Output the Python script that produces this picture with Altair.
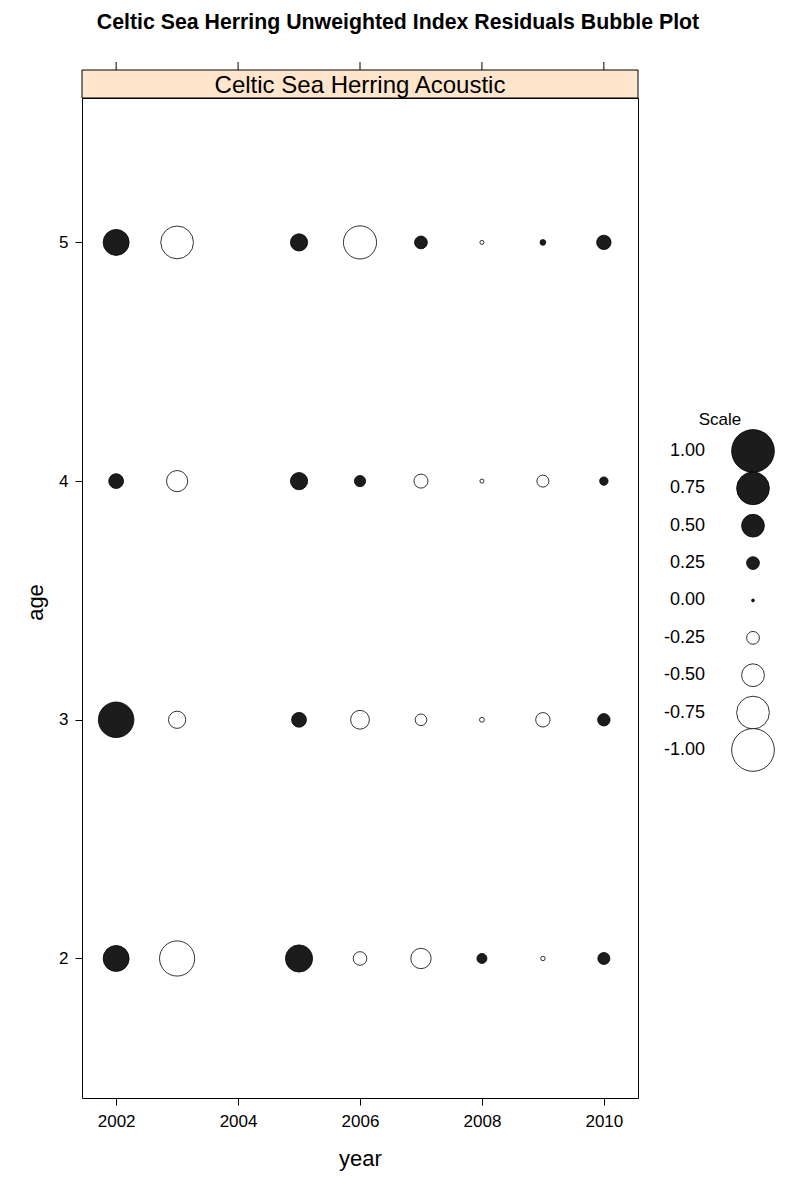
import altair as alt
import pandas as pd

# ---- data ----
years = [2002, 2003, 2005, 2006, 2007, 2008, 2009, 2010]
res_age2 = [0.58, -0.81, 0.61, -0.27, -0.44, 0.18, -0.04, 0.23]
res_age3 = [0.82, -0.36, 0.30, -0.40, -0.22, -0.05, -0.29, 0.24]
res_age4 = [0.30, -0.46, 0.36, 0.21, -0.28, -0.03, -0.23, 0.14]
res_age5 = [0.58, -0.75, 0.36, -0.76, 0.25, -0.03, 0.07, 0.29]
ages = [2, 3, 4, 5]

legend_values = [1.00, 0.75, 0.50, 0.25, 0.00, -0.25, -0.50, -0.75, -1.00]
legend_labels = ["1.00", "0.75", "0.50", "0.25", "0.00", "-0.25", "-0.50", "-0.75", "-1.00"]
x_ticks = [2002, 2004, 2006, 2008, 2010]
y_ticks = [2, 3, 4, 5]

main_title = "Celtic Sea Herring Unweighted Index Residuals Bubble Plot"
strip_title = "Celtic Sea Herring Acoustic"
legend_title = "Scale"

FONT = "Liberation Sans"
W, H = 556, 1000

rows = []
for age, res in zip(ages, [res_age2, res_age3, res_age4, res_age5]):
    for yr, r in zip(years, res):
        rows.append({"year": yr, "age": age, "res": r})
df = pd.DataFrame(rows)
leg_df = pd.DataFrame({"res": legend_values, "label": legend_labels})
tick_df = pd.DataFrame({"year": x_ticks})

xscale = alt.Scale(domain=[2001.44, 2010.56], nice=False, zero=False)
yscale = alt.Scale(domain=[1.4155, 5.605], nice=False, zero=False)
leg_scale = alt.Scale(domain=[-3.328, 3.361], nice=False, zero=False)

fill_cond = alt.condition("datum.res >= 0", alt.value("#1c1c1c"), alt.value("white"))

def sized(ch):
    return ch.transform_calculate(
        d="3.2 + 45*abs(datum.res)", area="PI*datum.d*datum.d/4"
    )

bubbles = sized(alt.Chart(df)).mark_circle(
    opacity=1, stroke="black", strokeWidth=0.8
).encode(
    x=alt.X("year:Q", scale=xscale,
            axis=alt.Axis(values=x_ticks, format="d", title="year",
                          titleY=60, titleBaseline="middle", labelPadding=8)),
    y=alt.Y("age:Q", scale=yscale,
            axis=alt.Axis(values=y_ticks, format="d", title="age",
                          titleX=-47, titleY=H / 2 + 4, titleBaseline="middle",
                          titleAngle=270, labelAngle=0, labelPadding=7)),
    size=alt.Size("area:Q", scale=None, legend=None),
    fill=fill_cond,
)

top_ticks = alt.Chart(tick_df).mark_rule(color="black", strokeWidth=1).encode(
    x=alt.X("year:Q", scale=xscale),
    y=alt.value(-36), y2=alt.value(-28),
)

strip = alt.Chart(pd.DataFrame({"t": [strip_title]})).mark_rect(
    fill="#ffe5cc", stroke="black", strokeWidth=1
).encode(x=alt.value(0), x2=alt.value(W), y=alt.value(-28), y2=alt.value(0))

strip_text = alt.Chart(pd.DataFrame({"t": [strip_title]})).mark_text(
    font=FONT, fontSize=24, color="black", baseline="middle", align="center"
).encode(x=alt.value(W / 2), y=alt.value(-12), text="t:N")

title = alt.Chart(pd.DataFrame({"t": [main_title]})).mark_text(
    font=FONT, fontSize=21.3, fontWeight="bold", color="black",
    baseline="middle", align="center"
).encode(x=alt.value(316), y=alt.value(-75), text="t:N")

leg_bub = sized(alt.Chart(leg_df)).mark_circle(
    opacity=1, stroke="black", strokeWidth=0.8
).encode(
    x=alt.value(671),
    y=alt.Y("res:Q", scale=leg_scale, axis=None),
    size=alt.Size("area:Q", scale=None, legend=None),
    fill=fill_cond,
)

leg_txt = alt.Chart(leg_df).mark_text(
    font=FONT, fontSize=18, color="black", align="right", baseline="middle"
).encode(
    x=alt.value(623),
    y=alt.Y("res:Q", scale=leg_scale, axis=None),
    text="label:N",
)

leg_title = alt.Chart(pd.DataFrame({"t": [legend_title]})).mark_text(
    font=FONT, fontSize=17, color="black", align="center", baseline="middle"
).encode(x=alt.value(638), y=alt.value(322), text="t:N")

chart = alt.layer(
    strip, strip_text, top_ticks, title, bubbles, leg_bub, leg_txt, leg_title
).resolve_scale(y="independent").properties(
    width=W, height=H,
    autosize=alt.AutoSizeParams(type="none"),
    padding={"left": 82, "top": 98, "right": 162, "bottom": 102},
    background="white",
).configure_view(
    stroke="black", strokeWidth=1
).configure_axis(
    domain=False, grid=False, tickColor="black", tickSize=7, tickWidth=1,
    labelFont=FONT, labelFontSize=17, labelColor="black",
    titleFont=FONT, titleFontSize=22, titleFontWeight="normal", titleColor="black",
)

chart.save("out.html", embed_options={"renderer": "svg", "actions": False})
